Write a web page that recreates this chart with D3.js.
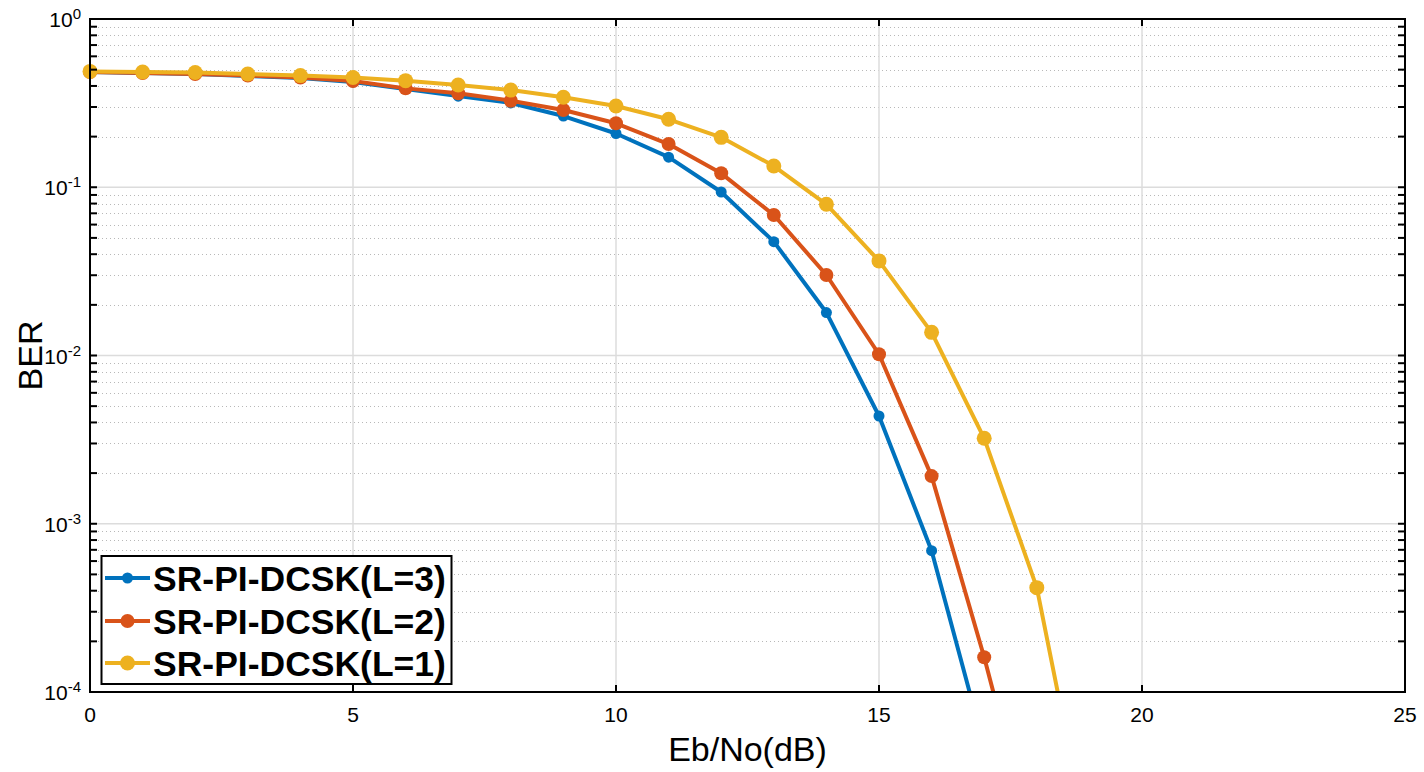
<!DOCTYPE html>
<html>
<head>
<meta charset="utf-8">
<script src="https://cdn.jsdelivr.net/npm/d3@7/dist/d3.min.js"></script>
<style>
  html, body { margin: 0; padding: 0; background: #fff; }
  svg { display: block; font-family: "Liberation Sans", Arial, sans-serif; }
</style>
</head>
<body>
<svg id="chart" width="1424" height="772"></svg>
<script>
// ---- data ----
const ebno = [0,1,2,3,4,5,6,7,8,9,10,11,12,13,14,15,16,17,18,19];
const berL3 = [0.484,0.4775,0.471,0.458,0.446,0.422,0.384,0.348,0.317,0.265,0.2087,0.151,0.0937,0.0475,0.018,0.00437,0.000692,0.0000475];
const berL2 = [0.484,0.4775,0.471,0.461,0.449,0.428,0.387,0.362,0.327,0.2877,0.24,0.1807,0.121,0.0684,0.0301,0.01017,0.00192,0.000161,0.0000103];
const berL1 = [0.488,0.484,0.481,0.471,0.461,0.449,0.430,0.405,0.378,0.3424,0.304,0.2534,0.198,0.1337,0.0792,0.0365,0.01373,0.00322,0.000417,0.0000115];
const seriesNames = ["SR-PI-DCSK(L=3)","SR-PI-DCSK(L=2)","SR-PI-DCSK(L=1)"];
const seriesColors = ["#0072BD","#D95319","#EDB120"];
const markerRadius = [5.5,7,7.5];
const xTicks = [0,5,10,15,20,25];
const yTickExp = [0,-1,-2,-3,-4];
const xLabel = "Eb/No(dB)";
const yLabel = "BER";

// ---- layout ----
const svg = d3.select("#chart");
const L = 90, T = 19, R = 1405, B = 692;
const x = d3.scaleLinear().domain([0,25]).range([L,R]);
const y = d3.scaleLog().domain([1e-4,1]).range([B,T]);

svg.append("defs").append("clipPath").attr("id","plotclip")
  .append("rect").attr("x",L).attr("y",T).attr("width",R-L).attr("height",B-T);

// minor y grid (dotted)
const minorVals = [];
for (let e=-4; e<0; e++) for (let m=2; m<=9; m++) minorVals.push(m*Math.pow(10,e));
svg.append("g").selectAll("line").data(minorVals).join("line")
  .attr("x1",L).attr("x2",R)
  .attr("y1",d=>Math.round(y(d))+0.5).attr("y2",d=>Math.round(y(d))+0.5)
  .attr("stroke","#b8b8b8").attr("stroke-width",1)
  .attr("stroke-dasharray","1,3");

// major grid
svg.append("g").selectAll("line").data(yTickExp.slice(1,4)).join("line")
  .attr("x1",L).attr("x2",R)
  .attr("y1",d=>y(Math.pow(10,d))).attr("y2",d=>y(Math.pow(10,d)))
  .attr("stroke","#dcdcdc").attr("stroke-width",1.5);
svg.append("g").selectAll("line").data(xTicks.slice(1,5)).join("line")
  .attr("y1",T).attr("y2",B)
  .attr("x1",d=>x(d)).attr("x2",d=>x(d))
  .attr("stroke","#dcdcdc").attr("stroke-width",1.5);

// series
const allSeries = [berL3, berL2, berL1];
const line = d3.line().x(d=>x(d[0])).y(d=>y(d[1]));
allSeries.forEach((vals,i)=>{
  const pts = vals.map((v,j)=>[ebno[j],v]);
  svg.append("path").datum(pts)
    .attr("d",line).attr("fill","none")
    .attr("stroke",seriesColors[i]).attr("stroke-width",4)
    .attr("stroke-linejoin","round")
    .attr("clip-path","url(#plotclip)");
  svg.append("g").selectAll("circle").data(pts.filter(p=>p[1]>=1e-4)).join("circle")
    .attr("cx",d=>x(d[0])).attr("cy",d=>y(d[1]))
    .attr("r",markerRadius[i]).attr("fill",seriesColors[i]);
});

// box
svg.append("rect").attr("x",L).attr("y",T).attr("width",R-L).attr("height",B-T)
  .attr("fill","none").attr("stroke","#000").attr("stroke-width",2);

// ticks (inward) on all sides
const tk = 7;
const tg = svg.append("g").attr("stroke","#000").attr("stroke-width",2);
xTicks.forEach(t=>{
  tg.append("line").attr("x1",x(t)).attr("x2",x(t)).attr("y1",B).attr("y2",B-tk);
  tg.append("line").attr("x1",x(t)).attr("x2",x(t)).attr("y1",T).attr("y2",T+tk);
});
const allY = yTickExp.map(e=>Math.pow(10,e)).concat(minorVals);
allY.forEach(v=>{
  tg.append("line").attr("x1",L).attr("x2",L+tk).attr("y1",y(v)).attr("y2",y(v));
  tg.append("line").attr("x1",R).attr("x2",R-tk).attr("y1",y(v)).attr("y2",y(v));
});

// x tick labels
svg.append("g").selectAll("text").data(xTicks).join("text")
  .attr("x",d=>x(d)).attr("y",B+30)
  .attr("text-anchor","middle").attr("font-size",21).attr("fill","#000")
  .text(d=>d);

// y tick labels
yTickExp.forEach(e=>{
  const t = svg.append("text").attr("x",81).attr("y",y(Math.pow(10,e))+8)
    .attr("text-anchor","end").attr("font-size",21).attr("fill","#000");
  t.append("tspan").text("10");
  t.append("tspan").attr("dy",-8).attr("font-size",15).text(String(e));
});

// axis labels
svg.append("text").attr("x",(L+R)/2).attr("y",761)
  .attr("text-anchor","middle").attr("font-size",34).attr("fill","#000").text(xLabel);
svg.append("text").attr("transform",`translate(42,${(T+B)/2}) rotate(-90)`)
  .attr("text-anchor","middle").attr("font-size",34).attr("fill","#000").text(yLabel);

// legend
const lg = svg.append("g");
lg.append("rect").attr("x",101.5).attr("y",556).attr("width",350).attr("height",128)
  .attr("fill","#fff").attr("stroke","#000").attr("stroke-width",2);
const rowY = [578,621,663];
seriesNames.forEach((name,i)=>{
  lg.append("line").attr("x1",105).attr("x2",150).attr("y1",rowY[i]).attr("y2",rowY[i])
    .attr("stroke",seriesColors[i]).attr("stroke-width",4);
  lg.append("circle").attr("cx",127.5).attr("cy",rowY[i]).attr("r",markerRadius[i])
    .attr("fill",seriesColors[i]);
  lg.append("text").attr("x",153).attr("y",rowY[i]+12.5)
    .attr("font-size",35.5).attr("font-weight","bold").attr("fill","#000").text(name);
});
</script>
</body>
</html>
